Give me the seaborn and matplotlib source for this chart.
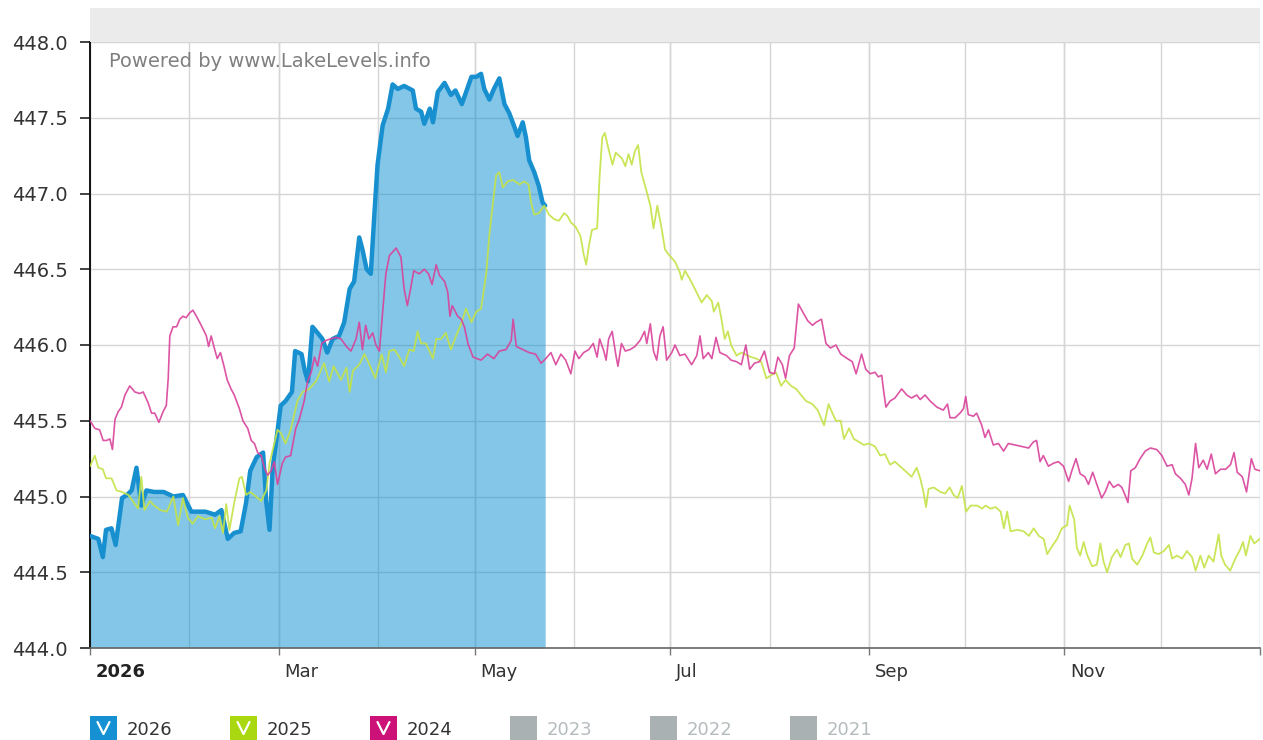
import matplotlib
matplotlib.use("Agg")
import matplotlib.pyplot as plt
import matplotlib.transforms as mtransforms
from matplotlib.lines import Line2D
from matplotlib.patches import Rectangle
import pandas as pd
import seaborn as sns

# (day of year, level in ft)
LEVELS_2026 = [
    (0, 444.74), (2.6, 444.72), (4, 444.60), (5, 444.78), (6.7, 444.79), (8, 444.68),
    (10, 444.99), (11.5, 445.01), (13, 445.04), (14.5, 445.19), (16, 444.94), (17.6, 445.04),
    (20, 445.03), (23, 445.03), (26, 445.00), (29, 445.01), (31.6, 444.90), (36, 444.90),
    (39, 444.88), (41, 444.91), (43, 444.72), (45, 444.76), (47, 444.77), (48.7, 444.96),
    (50, 445.17), (52, 445.26), (54, 445.29), (55, 444.96), (56, 444.78), (57, 445.19),
    (58, 445.35), (59.5, 445.60), (61, 445.63), (63, 445.69), (64, 445.96), (66, 445.94),
    (67, 445.83), (68, 445.76), (69.4, 446.12), (71, 446.08), (72.5, 446.04), (74, 445.95),
    (75.7, 446.04), (77.7, 446.06), (79.3, 446.15), (81, 446.37), (82.4, 446.42), (84, 446.71),
    (85, 446.63), (86.3, 446.50), (87.6, 446.47), (88.7, 446.86), (89.7, 447.19), (91.3, 447.45),
    (93, 447.56), (94.4, 447.72), (96, 447.69), (98, 447.71), (100.7, 447.68), (101.7, 447.56),
    (103.3, 447.54), (104.3, 447.46), (106, 447.56), (107, 447.47), (108.5, 447.67),
    (110.6, 447.73), (112.6, 447.65), (114, 447.68), (116, 447.59), (119, 447.77),
    (120.5, 447.77), (122, 447.79), (123, 447.69), (124.6, 447.62), (126, 447.69),
    (127.7, 447.76), (129.3, 447.59), (130.8, 447.53), (132.4, 447.44), (133.4, 447.38),
    (135, 447.47), (136, 447.37), (137, 447.22), (138.6, 447.14), (140, 447.05),
    (141.2, 446.94), (142, 446.92),
]

LEVELS_2025 = [
    (0, 445.20), (1.5, 445.27), (2.6, 445.19), (4, 445.18), (5, 445.12), (6.7, 445.12),
    (8.3, 445.04), (10, 445.03), (12, 445.01), (14, 444.95), (15, 444.92), (16, 445.13),
    (17, 444.91), (18.7, 444.97), (20, 444.94), (22, 444.91), (24, 444.90), (26, 445.00),
    (27.5, 444.81), (29, 444.99), (30.5, 444.86), (32, 444.82), (33.7, 444.87), (35.8, 444.85),
    (38, 444.86), (39, 444.79), (40.4, 444.87), (41.5, 444.76), (42.5, 444.95), (43.5, 444.78),
    (45, 444.96), (46.6, 445.12), (47.4, 445.13), (48.7, 445.01), (50, 445.03), (51.8, 445.00),
    (53.4, 444.97), (55, 445.04), (56, 445.22), (57.5, 445.35), (58.5, 445.44), (59.5, 445.42),
    (61, 445.35), (62.6, 445.44), (64.7, 445.63), (66.3, 445.69), (68.4, 445.71), (70.5, 445.76),
    (72, 445.83), (73, 445.88), (74.6, 445.76), (76, 445.86), (78.3, 445.77), (80, 445.85),
    (81, 445.69), (82, 445.83), (84, 445.87), (85.6, 445.94), (87, 445.88), (89, 445.78),
    (91, 445.94), (92.3, 445.82), (93.4, 445.96), (95, 445.97), (96.5, 445.92), (98, 445.86),
    (99.6, 445.97), (101, 445.96), (102.2, 446.09), (103.3, 446.01), (104.8, 446.01),
    (107, 445.91), (108, 446.04), (109.5, 446.04), (111, 446.08), (112.6, 445.97),
    (114.2, 446.06), (115.8, 446.14), (117.3, 446.24), (119, 446.15), (120.5, 446.22),
    (122, 446.24), (123.6, 446.47), (124.6, 446.73), (125.7, 446.94), (126.7, 447.12),
    (127.7, 447.14), (128.8, 447.04), (130.3, 447.08), (131.9, 447.09), (134, 447.06),
    (135.5, 447.08), (136.8, 447.06), (137.6, 446.94), (138.6, 446.86), (140, 446.87),
    (141.7, 446.92), (143.2, 446.86), (144.8, 446.83), (146.3, 446.82), (147.9, 446.87),
    (149, 446.85), (150, 446.81), (151.5, 446.78), (153, 446.72), (154, 446.60),
    (154.8, 446.53), (155.6, 446.65), (156.6, 446.76), (158.2, 446.77), (159, 447.12),
    (159.8, 447.37), (160.6, 447.40), (161.8, 447.29), (163, 447.19), (164, 447.27),
    (166, 447.23), (167, 447.18), (168, 447.26), (169, 447.19), (170, 447.28), (171, 447.32),
    (172, 447.14), (173.7, 447.01), (174.8, 446.92), (175.8, 446.77), (177, 446.92),
    (178.4, 446.76), (179.4, 446.63), (180.4, 446.60), (182.5, 446.55), (184, 446.48),
    (184.6, 446.43), (185.6, 446.49), (187, 446.44), (188.7, 446.37), (190.8, 446.28),
    (192.4, 446.33), (194, 446.29), (194.6, 446.22), (196, 446.28), (197, 446.17),
    (198, 446.04), (199, 446.09), (200, 446.00), (201.7, 445.93), (203.2, 445.95),
    (205.3, 445.93), (206.3, 445.92), (207.9, 445.91), (209.4, 445.89), (211, 445.78),
    (212.5, 445.80), (214, 445.82), (215.6, 445.73), (217, 445.77), (218.7, 445.73),
    (220.3, 445.71), (221.8, 445.67), (223.4, 445.63), (225.4, 445.61), (227, 445.57),
    (229, 445.47), (230.4, 445.61), (231.6, 445.55), (232.7, 445.50), (234.2, 445.50),
    (235.2, 445.38), (236.8, 445.45), (238.3, 445.38), (239.9, 445.36), (241.4, 445.34),
    (243, 445.35), (244.9, 445.33), (246.5, 445.27), (248, 445.28), (249.6, 445.21),
    (251.1, 445.23), (252.7, 445.20), (254.8, 445.16), (256.3, 445.13), (257.9, 445.19),
    (259, 445.12), (260, 445.03), (260.8, 444.93), (261.6, 445.05), (263.2, 445.06),
    (265.3, 445.03), (266.8, 445.02), (268.2, 445.06), (269.4, 445.01), (270.7, 444.99),
    (272, 445.07), (273.3, 444.90), (274.7, 444.94), (276.8, 444.94), (278.3, 444.92),
    (279.4, 444.94), (280.9, 444.92), (282.5, 444.93), (284.1, 444.90), (285.1, 444.79),
    (286.1, 444.90), (287.2, 444.77), (289.3, 444.78), (291.3, 444.77), (292.9, 444.74),
    (294.4, 444.79), (296, 444.74), (297.5, 444.72), (298.6, 444.62), (300.1, 444.67),
    (301.7, 444.72), (303.2, 444.79), (304.8, 444.81), (305.6, 444.94), (307, 444.85),
    (307.9, 444.66), (308.9, 444.61), (310, 444.70), (311, 444.62), (312.6, 444.54),
    (314.1, 444.55), (315.2, 444.69), (316.2, 444.57), (317.3, 444.50), (318.8, 444.60),
    (320.4, 444.65), (321.5, 444.60), (323, 444.68), (324.1, 444.69), (325.1, 444.59),
    (326.7, 444.55), (328.3, 444.61), (329.8, 444.69), (330.8, 444.73), (331.9, 444.63),
    (333.4, 444.62), (335, 444.64), (336.6, 444.68), (337.6, 444.59), (339.1, 444.61),
    (340.7, 444.59), (342.2, 444.64), (343.8, 444.60), (344.9, 444.51), (346.4, 444.61),
    (347.6, 444.53), (349, 444.61), (350.5, 444.57), (352.1, 444.75), (352.9, 444.61),
    (354.1, 444.55), (355.7, 444.51), (357.3, 444.59), (358.8, 444.65), (359.7, 444.70),
    (360.6, 444.61), (362, 444.74), (363.2, 444.69), (364.9, 444.72),
]

LEVELS_2024 = [
    (0, 445.50), (1.5, 445.45), (3, 445.44), (4.1, 445.37), (5.2, 445.37), (6.2, 445.38),
    (7, 445.31), (7.8, 445.51), (8.8, 445.56), (9.8, 445.59), (10.9, 445.67), (12.4, 445.73),
    (14, 445.69), (15.5, 445.68), (16.6, 445.69), (18.1, 445.62), (19.2, 445.55),
    (20.2, 445.55), (21.5, 445.49), (22.8, 445.56), (23.8, 445.60), (24.4, 445.78),
    (24.9, 446.06), (25.9, 446.12), (27, 446.12), (28, 446.17), (29, 446.19), (30, 446.18),
    (31, 446.21), (32.1, 446.23), (33.2, 446.19), (34.7, 446.13), (36.3, 446.06), (37, 445.99),
    (37.8, 446.06), (38.9, 445.97), (39.7, 445.91), (40.7, 445.95), (41.8, 445.86),
    (42.8, 445.77), (44, 445.71), (45, 445.67), (46.6, 445.58), (47.7, 445.50), (49.2, 445.45),
    (50.3, 445.37), (51.3, 445.35), (52.3, 445.29), (53.4, 445.27), (54.4, 445.19),
    (55.4, 445.14), (56.5, 445.17), (57.5, 445.23), (58.5, 445.08), (60, 445.22), (61, 445.26),
    (62.6, 445.27), (64.2, 445.45), (65.3, 445.51), (66.8, 445.63), (67.9, 445.76), (69, 445.82),
    (70, 445.92), (71, 445.86), (72.3, 446.01), (73.6, 446.03), (75, 446.04), (76.7, 446.05),
    (78.3, 446.04), (80, 445.99), (81.4, 445.96), (83, 446.04), (84, 446.15), (85, 445.97),
    (86, 446.13), (87, 446.04), (88.2, 446.08), (89.2, 446.00), (90.3, 445.96), (91.3, 446.22),
    (92.3, 446.47), (93.4, 446.59), (95.5, 446.64), (97, 446.58), (98, 446.37), (99, 446.26),
    (100, 446.37), (101, 446.49), (102.7, 446.47), (104.3, 446.50), (105.6, 446.47),
    (106.7, 446.40), (108, 446.53), (109, 446.46), (110.6, 446.42), (111.6, 446.35),
    (112.3, 446.19), (113, 446.26), (114.7, 446.19), (115.8, 446.17), (116.8, 446.12),
    (117.9, 446.01), (119.5, 445.92), (122, 445.90), (124, 445.94), (126, 445.91),
    (127.7, 445.96), (129.8, 445.97), (131.4, 446.03), (132, 446.17), (133, 445.99),
    (135, 445.97), (137, 445.95), (139, 445.94), (140.7, 445.88), (142.2, 445.91),
    (143.8, 445.95), (145.3, 445.87), (146.9, 445.94), (148.4, 445.90), (150, 445.81),
    (151.3, 445.96), (152.5, 445.91), (154, 445.95), (155.6, 445.97), (157, 446.01),
    (158.2, 445.92), (159, 446.04), (160.3, 445.96), (161, 445.90), (161.8, 446.04),
    (162.9, 446.09), (164, 445.94), (164.7, 445.86), (165.8, 446.01), (167, 445.96),
    (168.5, 445.97), (170, 445.99), (171.6, 446.03), (173, 446.09), (173.7, 446.01),
    (174.8, 446.14), (175.8, 445.96), (176.8, 445.90), (177.8, 446.06), (178.8, 446.12),
    (179.9, 445.90), (181.5, 445.95), (182.5, 446.00), (184, 445.93), (185.6, 445.94),
    (187.7, 445.87), (189.3, 445.93), (190.3, 446.06), (191.3, 445.91), (192.9, 445.95),
    (194, 445.91), (195.3, 446.05), (196.5, 445.95), (198.6, 445.93), (200, 445.90),
    (201.7, 445.89), (203.2, 445.87), (204.6, 446.00), (205.8, 445.84), (207.3, 445.88),
    (208.9, 445.89), (210.4, 445.96), (212, 445.82), (213.5, 445.81), (214.6, 445.92),
    (216, 445.87), (217, 445.78), (218.2, 445.93), (219.7, 445.98), (221, 446.27),
    (222.3, 446.22), (223.9, 446.16), (225.4, 446.13), (226.5, 446.15), (228.2, 446.17),
    (229.6, 446.01), (231, 445.98), (232.7, 446.00), (234.2, 445.94), (236.3, 445.91),
    (237.8, 445.89), (239, 445.81), (240.7, 445.94), (242, 445.84), (243.4, 445.81),
    (244.9, 445.82), (245.9, 445.79), (247, 445.80), (247.5, 445.71), (248.3, 445.59),
    (249.6, 445.63), (251.1, 445.65), (253.2, 445.71), (254.8, 445.67), (256.3, 445.65),
    (257.9, 445.67), (259, 445.64), (260.5, 445.67), (262.1, 445.63), (264.2, 445.59),
    (266.2, 445.57), (267.5, 445.61), (268.3, 445.52), (269.9, 445.52), (271.4, 445.55),
    (272.5, 445.58), (273.2, 445.66), (274, 445.54), (275.6, 445.53), (276.6, 445.55),
    (278.2, 445.47), (279.2, 445.39), (280.3, 445.44), (281.8, 445.34), (283.4, 445.35),
    (285, 445.30), (286.5, 445.35), (288.6, 445.34), (290.7, 445.33), (292.8, 445.32),
    (294.3, 445.36), (295.3, 445.37), (296.4, 445.23), (297.4, 445.27), (299, 445.20),
    (300.6, 445.22), (302.1, 445.23), (303.7, 445.20), (305.3, 445.10), (306.3, 445.17),
    (307.6, 445.25), (308.9, 445.15), (310.4, 445.13), (311.5, 445.08), (312.8, 445.16),
    (314.1, 445.08), (315.6, 444.99), (316.7, 445.03), (318, 445.10), (319.3, 445.06),
    (320.8, 445.08), (321.9, 445.06), (322.9, 445.01), (323.8, 444.96), (324.7, 445.17),
    (326.1, 445.19), (327.6, 445.25), (329.2, 445.30), (330.8, 445.32), (332.8, 445.31),
    (334.4, 445.27), (336, 445.20), (337.6, 445.21), (338.6, 445.15), (340.2, 445.12),
    (341.7, 445.08), (342.8, 445.01), (343.8, 445.12), (344.9, 445.35), (345.9, 445.19),
    (347.3, 445.24), (348.5, 445.18), (349.8, 445.28), (351.1, 445.15), (352.7, 445.18),
    (354.3, 445.18), (355.8, 445.21), (356.9, 445.29), (357.9, 445.16), (359.5, 445.13),
    (360.8, 445.03), (362.3, 445.25), (363.4, 445.18), (364.9, 445.17),
]

MONTH_STARTS = [0, 31, 59, 90, 120, 151, 181, 212, 243, 273, 304, 334, 365]
TICK_DAYS = [0, 59, 120, 181, 243, 304, 365]
TICK_LABELS = ["2026", "Mar", "May", "Jul", "Sep", "Nov", ""]
Y_TICKS = [444.0, 444.5, 445.0, 445.5, 446.0, 446.5, 447.0, 447.5, 448.0]

LEGEND_YEARS = ["2026", "2025", "2024", "2023", "2022", "2021"]
LEGEND_ACTIVE = [True, True, True, False, False, False]
LEGEND_BOX_COLORS = ["#1590d2", "#a9d811", "#cc1179", "#a9b1b2", "#a9b1b2", "#a9b1b2"]

LINE_COLORS = {"2026": "#1890d0", "2025": "#c4e347", "2024": "#d9429a"}
FILL_COLOR = "#0a8fd0"

W, H = 1263, 740


def to_frame(pairs, year):
    return pd.DataFrame(pairs, columns=["day", "level"]).assign(year=year)


def fig_xy(x, y):
    """Pixel position (from top-left) -> figure fraction."""
    return x / W, 1 - y / H


df = pd.concat([
    to_frame(LEVELS_2026, "2026"),
    to_frame(LEVELS_2025, "2025"),
    to_frame(LEVELS_2024, "2024"),
])

sns.set_style("white")
plt.rcParams["font.family"] = ["DejaVu Sans"]

fig = plt.figure(figsize=(W / 100, H / 100), dpi=100)
ax = fig.add_axes([90 / W, 92 / H, 1170 / W, 606 / H])

# grey header band above the plot
fig.patches.append(Rectangle(fig_xy(90, 42), 1170 / W, 34 / H, transform=fig.transFigure,
                             facecolor="#ebebeb", edgecolor="none", zorder=0))

cur = df[df["year"] == "2026"]
ax.fill_between(cur["day"], cur["level"], 444.0, color=FILL_COLOR, alpha=0.5,
                linewidth=0, zorder=1)
sns.lineplot(data=cur, x="day", y="level", ax=ax, color=LINE_COLORS["2026"],
             linewidth=3.2, estimator=None, zorder=3)
for year, lw in [("2025", 1.3), ("2024", 1.2)]:
    sns.lineplot(data=df[df["year"] == year], x="day", y="level", ax=ax,
                 color=LINE_COLORS[year], linewidth=lw, alpha=0.9,
                 estimator=None, zorder=4)

ax.set_xlim(0, 365)
ax.set_ylim(444.0, 448.0)
ax.set_xlabel("")
ax.set_ylabel("")

ax.set_yticks(Y_TICKS)
ax.set_yticklabels([f"{v:.1f}" for v in Y_TICKS])
ax.set_xticks(TICK_DAYS)
ax.set_xticklabels(TICK_LABELS, ha="left")
ax.xaxis.remove_overlapping_locs = False
ax.set_xticks(MONTH_STARTS, minor=True)

ax.grid(True, which="major", axis="y", color="#d5d5d5", linewidth=1.0)
ax.grid(True, which="both", axis="x", color="#d5d5d5", linewidth=1.0)
ax.set_axisbelow(True)

ax.tick_params(axis="y", direction="out", length=7, width=1.2, color="#222222",
               labelsize=14, labelcolor="#333333", pad=9, left=True)
ax.tick_params(axis="x", which="major", direction="out", length=5, width=1,
               color="#777777", labelsize=13, labelcolor="#333333", pad=6, bottom=True)
ax.tick_params(axis="x", which="minor", length=0)

offset = mtransforms.ScaledTranslation(4 / 72, 0, fig.dpi_scale_trans)
for i, label in enumerate(ax.get_xticklabels()):
    label.set_transform(label.get_transform() + offset)
    if i == 0:
        label.set_fontweight("bold")
        label.set_color("#222222")

for side in ["top", "right"]:
    ax.spines[side].set_visible(False)
ax.spines["left"].set_color("#111111")
ax.spines["left"].set_linewidth(1.4)
ax.spines["bottom"].set_color("#666666")
ax.spines["bottom"].set_linewidth(1.2)

ax.text(0.016, 0.967, "Powered by www.LakeLevels.info", transform=ax.transAxes,
        ha="left", va="center", fontsize=14, color="#808080")

# legend row along the bottom edge (boxes run off the figure)
for i, (year, active, box_color) in enumerate(zip(LEGEND_YEARS, LEGEND_ACTIVE, LEGEND_BOX_COLORS)):
    bx = 90 + 140 * i
    fig.patches.append(Rectangle(fig_xy(bx, 746), 27 / W, 30 / H, transform=fig.transFigure,
                                 facecolor=box_color, edgecolor="none"))
    if active:
        xs, ys = zip(fig_xy(bx + 7.5, 722), fig_xy(bx + 13.5, 734), fig_xy(bx + 19.5, 722))
        fig.lines.append(Line2D(xs, ys, transform=fig.transFigure, color="white",
                                linewidth=1.6))
    tx, ty = fig_xy(bx + 37, 730)
    fig.text(tx, ty, year, ha="left", va="center", fontsize=13,
             color="#333333" if active else "#b4bcbd")

fig.savefig("out.png", dpi=100)
